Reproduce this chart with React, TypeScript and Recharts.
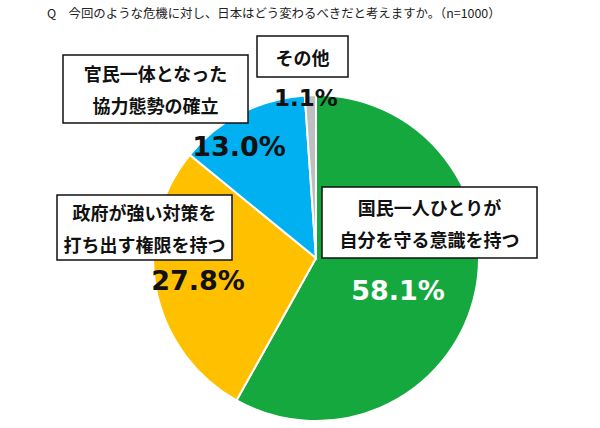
import React from 'react';
import { PieChart, Pie, Cell } from 'recharts';

const title = 'Q　今回のような危機に対し、日本はどう変わるべきだと考えますか。（n=1000）';
const categories = [
  ['国民一人ひとりが', '自分を守る意識を持つ'],
  ['政府が強い対策を', '打ち出す権限を持つ'],
  ['官民一体となった', '協力態勢の確立'],
  ['その他'],
];
const values = [58.1, 27.8, 13.0, 1.1];
const colors = ['#14A83E', '#FFC000', '#00B0F0', '#BFBFBF'];

// where the callout boxes and the percentages sit (layout only)
const boxes = [
  { x: 322, y: 187, w: 215, h: 71, px: 398, py: 290, pc: '#ffffff' },
  { x: 57, y: 195, w: 175, h: 65, px: 198, py: 280, pc: '#111111' },
  { x: 63, y: 55, w: 185, h: 68, px: 239, py: 146, pc: '#111111' },
  { x: 257, y: 36, w: 91, h: 41, px: 306, py: 98, pc: '#111111' },
];

const data = values.map((v, i) => ({ name: categories[i].join(''), value: v }));

const FONT = '"Noto Sans CJK JP", "Noto Sans", sans-serif';
const NUM_FONT = '"DejaVu Sans", Verdana, sans-serif';

const renderLabel = (props: any) => {
  const i = props.index;
  const b = boxes[i];
  const lines = categories[i];
  const cy = b.y + b.h / 2;
  const gap = 32;
  return (
    <g key={`lbl-${i}`}>
      <rect x={b.x} y={b.y} width={b.w} height={b.h} fill="#fff" stroke="#111" strokeWidth={1.5} />
      {lines.map((t, j) => (
        <text
          key={j}
          x={b.x + b.w / 2}
          y={cy + (j - (lines.length - 1) / 2) * gap}
          textAnchor="middle"
          dominantBaseline="central"
          fontFamily={FONT}
          fontWeight="bold"
          fontSize={18}
          fill="#111"
        >
          {t}
        </text>
      ))}
      <text
        x={b.px}
        y={b.py}
        textAnchor="middle"
        dominantBaseline="central"
        fontFamily={NUM_FONT}
        fontWeight="bold"
        fontSize={i === 3 ? 23 : 27}
        fill={b.pc}
      >
        {values[i].toFixed(1)}%
      </text>
    </g>
  );
};

export default function App() {
  return (
    <div style={{ position: 'absolute', left: 0, top: 0, width: 600, height: 428, background: '#fff' }}>
      <div
        style={{
          position: 'absolute',
          left: 47,
          top: 3,
          fontFamily: FONT,
          fontSize: 12.4,
          color: '#222',
          whiteSpace: 'nowrap',
          lineHeight: '20px',
        }}
      >
        {title}
      </div>
      <PieChart width={600} height={428}>
        <Pie
          data={data}
          dataKey="value"
          nameKey="name"
          cx={311}
          cy={253}
          outerRadius={163}
          startAngle={90}
          endAngle={-270}
          stroke="#fff"
          strokeWidth={2}
          label={renderLabel}
          labelLine={false}
          isAnimationActive={false}
        >
          {data.map((d, i) => (
            <Cell key={`cell-${i}`} fill={colors[i]} />
          ))}
        </Pie>
      </PieChart>
    </div>
  );
}
